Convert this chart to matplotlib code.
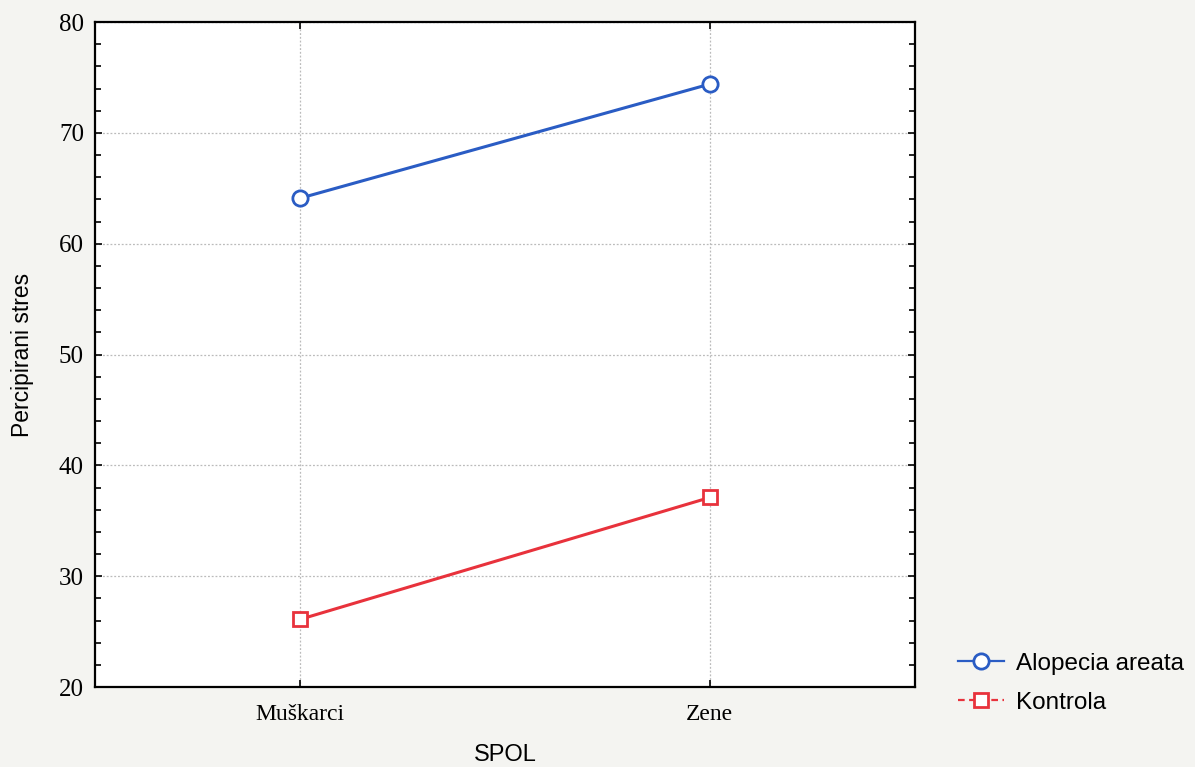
import matplotlib.pyplot as plt
from matplotlib.lines import Line2D
from matplotlib.ticker import MultipleLocator

# data
categories = ["Muškarci", "Zene"]
alopecia = [64.1, 74.4]
kontrola = [26.1, 37.1]
series_names = ["Alopecia areata", "Kontrola"]

fig = plt.figure(figsize=(11.95, 7.67), dpi=100)
fig.patch.set_facecolor("#f4f4f1")
ax = fig.add_axes([0.0795, 0.1043, 0.686, 0.867])
ax.set_facecolor("white")

x = list(range(len(categories)))
ax.plot(x, alopecia, color="#2a5cc4", lw=2.2, marker="o", ms=11,
        mfc="white", mec="#2a5cc4", mew=2, zorder=3)
ax.plot(x, kontrola, color="#e8323c", lw=2.2, marker="s", ms=10.5,
        mfc="white", mec="#e8323c", mew=2, zorder=3)

ax.set_xlim(-0.5, 1.5)
ax.set_ylim(20, 80)
ax.set_xticks(x)
ax.set_xticklabels(categories, fontfamily="Liberation Serif", fontsize=17)
ax.yaxis.set_major_locator(MultipleLocator(10))
ax.yaxis.set_minor_locator(MultipleLocator(2))
for lab in ax.get_yticklabels():
    lab.set_fontfamily("Liberation Serif")
    lab.set_fontsize(18)

ax.tick_params(axis="both", which="both", direction="in", right=True, top=True)
ax.tick_params(axis="both", which="major", length=5, width=1.2)
ax.tick_params(axis="y", which="major", pad=8)
ax.tick_params(axis="x", which="major", pad=12)
ax.tick_params(axis="y", which="minor", length=4, width=1.2)
ax.grid(True, which="major", color="#bbbbbb", linestyle=(0, (1.5, 1.5)), lw=0.9)
for s in ax.spines.values():
    s.set_linewidth(1.6)

ax.set_xlabel("SPOL", fontfamily="Liberation Sans", fontsize=17, labelpad=14)
ax.set_ylabel("Percipirani stres", fontfamily="Liberation Sans", fontsize=16.5, labelpad=18)

handles = [
    Line2D([], [], color="#2a5cc4", lw=1.6, marker="o", ms=11, mfc="white",
           mec="#2a5cc4", mew=2),
    Line2D([], [], color="#e8323c", lw=1.6, ls=(0, (3, 2)), marker="s", ms=10.5,
           mfc="white", mec="#e8323c", mew=2),
]
fig.legend(handles, series_names, loc="center left", bbox_to_anchor=(0.783, 0.109),
           frameon=False, prop={"family": "Liberation Sans", "size": 17.5},
           handlelength=1.9, handletextpad=0.5, labelspacing=0.7)

fig.savefig("out.png", dpi=100, facecolor=fig.get_facecolor())
